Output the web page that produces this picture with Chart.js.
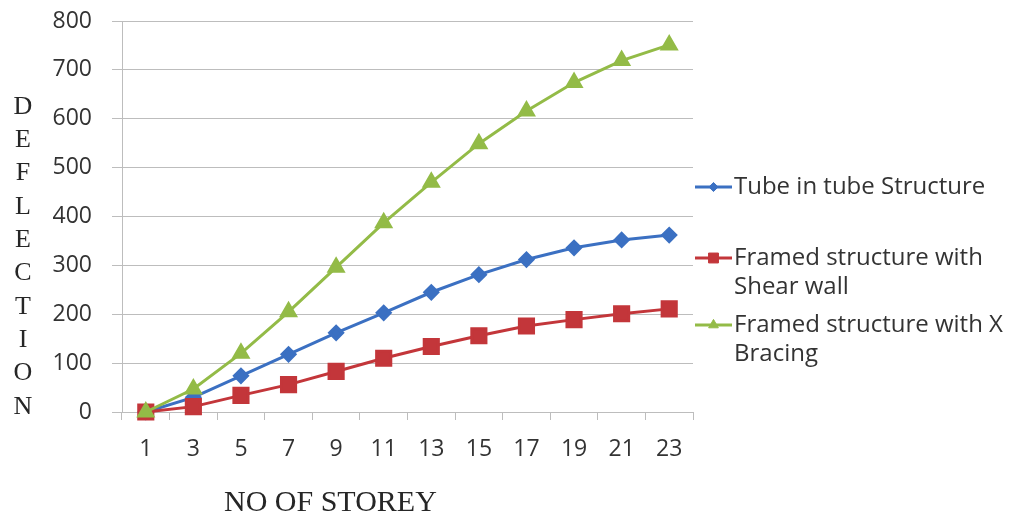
<!DOCTYPE html>
<html>
<head>
<meta charset="utf-8">
<title>Deflection vs number of storeys</title>
<script src="https://cdn.jsdelivr.net/npm/chart.js@4.4.1/dist/chart.umd.min.js"></script>
<style>
  html, body { margin: 0; padding: 0; background: #ffffff; }
  #wrap { width: 1010px; height: 518px; }
</style>
</head>
<body>
<div id="wrap"><canvas id="c" width="1010" height="518"></canvas></div>
<script>
// Storey numbers on the horizontal axis
const storeys = ['1', '3', '5', '7', '9', '11', '13', '15', '17', '19', '21', '23'];

// Lateral deflection of each structural system
const tubeInTube   = [0, 30, 74, 118, 162, 203, 245, 281, 312, 336, 352, 362];
const shearWall    = [0, 11, 34, 56, 83, 110, 134, 156, 176, 189, 201, 211];
const xBracing     = [0, 47, 120, 205, 296, 387, 470, 549, 616, 674, 719, 751];

const seriesNames = [
  'Tube in tube Structure',
  'Framed structure with Shear wall',
  'Framed structure with X Bracing'
];

const yTitle = 'DEFLECTION';
const xTitle = 'NO OF STOREY';

const BLUE = '#3b70c2';
const RED = '#c3363a';
const GREEN = '#93bb47';
const GRID = '#bdbdbd';
const TEXT = '#333333';

// Draws the stacked-letter y title, the x title and a wrapping legend on the right
const decorations = {
  id: 'decorations',
  afterDraw(chart) {
    const ctx = chart.ctx;
    const area = chart.chartArea;
    ctx.save();

    // vertical letters of the y-axis title
    ctx.fillStyle = '#262626';
    ctx.font = '26px "Liberation Serif", "Times New Roman", serif';
    ctx.textAlign = 'center';
    ctx.textBaseline = 'middle';
    const letters = yTitle.split('');
    const step = 33.3;
    letters.forEach((ch, i) => ctx.fillText(ch, 23, 107 + i * step));

    // x-axis title
    ctx.font = '30px "Liberation Serif", "Times New Roman", serif';
    ctx.fillText(xTitle, area.left + (area.right - area.left) * 0.365, 503);

    // legend
    const rows = [187, 258, 325];
    const lineH = 29;
    const sampleL = 695, sampleR = 732, textX = 734;
    ctx.font = '24px "Open Sans", sans-serif';
    ctx.textAlign = 'left';
    const maxW = chart.width - textX + 2;
    chart.data.datasets.forEach((ds, i) => {
      const y = rows[i];
      ctx.strokeStyle = ds.borderColor;
      ctx.lineWidth = ds.borderWidth;
      ctx.beginPath();
      ctx.moveTo(sampleL, y);
      ctx.lineTo(sampleR, y);
      ctx.stroke();
      ctx.fillStyle = ds.pointBackgroundColor;
      ctx.strokeStyle = ds.pointBorderColor;
      ctx.lineWidth = 1;
      Chart.helpers.drawPoint(ctx, {
        pointStyle: ds.pointStyle,
        radius: ds.pointRadius * 0.7,
        rotation: 0,
        borderWidth: 1
      }, (sampleL + sampleR) / 2, y);

      // word wrap the label
      const words = ds.label.split(' ');
      const lines = [];
      let cur = '';
      words.forEach(w => {
        const test = cur ? cur + ' ' + w : w;
        if (ctx.measureText(test).width > maxW && cur) {
          lines.push(cur);
          cur = w;
        } else {
          cur = test;
        }
      });
      if (cur) lines.push(cur);
      ctx.fillStyle = TEXT;
      lines.forEach((ln, k) => ctx.fillText(ln, textX, y + k * lineH));
    });

    ctx.restore();
  }
};

function series(label, data, color, style, radius, order) {
  return {
    label: label,
    data: data,
    borderColor: color,
    backgroundColor: color,
    pointBackgroundColor: color,
    pointBorderColor: color,
    borderWidth: 3,
    pointStyle: style,
    pointRadius: radius,
    pointHoverRadius: radius,
    tension: 0,
    clip: false,
    order: order
  };
}

const tickFont = { family: '"Open Sans", sans-serif', size: 23 };

new Chart(document.getElementById('c'), {
  type: 'line',
  data: {
    labels: storeys,
    datasets: [
      series(seriesNames[0], tubeInTube, BLUE, 'rectRot', 6.5, 3),
      series(seriesNames[1], shearWall, RED, 'rect', 10, 2),
      series(seriesNames[2], xBracing, GREEN, 'triangle', 8, 1)
    ]
  },
  options: {
    responsive: false,
    animation: false,
    devicePixelRatio: 1,
    layout: { autoPadding: false, padding: { top: 21, right: 317, bottom: 0, left: 0 } },
    plugins: {
      legend: { display: false },
      tooltip: { enabled: false }
    },
    scales: {
      x: {
        type: 'category',
        offset: true,
        afterFit(scale) { scale.height = 106; scale.paddingLeft = 0; scale.paddingRight = 0; },
        grid: {
          offset: true,
          drawOnChartArea: false,
          drawTicks: true,
          tickLength: 8,
          color: GRID,
          lineWidth: 1
        },
        border: { display: true, color: GRID, width: 1 },
        ticks: {
          autoSkip: false,
          maxRotation: 0,
          padding: 16,
          color: TEXT,
          font: tickFont
        }
      },
      y: {
        min: 0,
        max: 800,
        afterFit(scale) { scale.width = 122; scale.paddingTop = 0; scale.paddingBottom = 0; },
        grid: {
          color: GRID,
          lineWidth: 1,
          drawTicks: true,
          tickLength: 10
        },
        border: { display: true, color: GRID, width: 1 },
        ticks: {
          stepSize: 100,
          padding: 20,
          color: TEXT,
          font: tickFont
        }
      }
    }
  },
  plugins: [decorations]
});
</script>
</body>
</html>
